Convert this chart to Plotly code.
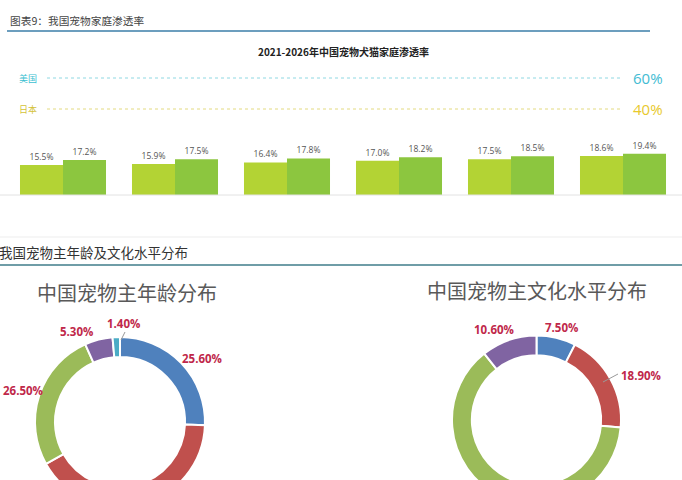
import plotly.graph_objects as go

# ---------------- data ----------------
years = ["2021", "2022", "2023", "2024", "2025", "2026"]
series_a = [15.5, 15.9, 16.4, 17.0, 17.5, 18.6]
series_b = [17.2, 17.5, 17.8, 18.2, 18.5, 19.4]
ref_countries = ["美国", "日本"]
ref_values = [60, 40]

age_groups = ["组1", "组2", "组3", "组4", "组5"]
age_values = [25.6, 41.2, 26.5, 5.3, 1.4]
edu_groups = ["组1", "组2", "组3", "组4"]
edu_values = [7.5, 18.9, 63.0, 10.6]

header1 = "图表9：我国宠物家庭渗透率"
bar_title = "2021-2026年中国宠物犬猫家庭渗透率"
header2 = "我国宠物主年龄及文化水平分布"
pie_title_age = "中国宠物主年龄分布"
pie_title_edu = "中国宠物主文化水平分布"

# ---------------- layout helpers ----------------
W, H = 682, 520
def X(px):
    return px / W
def Y(py):
    return 1 - py / H

CJK = "Noto Sans CJK SC"
pie_colors = ["#4f81bd", "#c0504d", "#9bbb59", "#8064a2", "#4bacc6"]
label_red = "#c0284a"

fig = go.Figure()

fig.add_trace(go.Bar(
    x=years, y=series_a, marker_color="#b3d334", marker_line_width=0,
    texttemplate="%{y:.1f}%", textposition="outside",
    textfont=dict(size=8.5, color="#555555", family="Open Sans"),
    hoverinfo="skip", showlegend=False))
fig.add_trace(go.Bar(
    x=years, y=series_b, marker_color="#8cc63f", marker_line_width=0,
    texttemplate="%{y:.1f}%", textposition="outside",
    textfont=dict(size=8.5, color="#555555", family="Open Sans"),
    hoverinfo="skip", showlegend=False))

fig.add_trace(go.Pie(
    labels=age_groups, values=age_values, hole=0.765, sort=False,
    direction="clockwise", rotation=0, textinfo="none", hoverinfo="skip",
    marker=dict(colors=pie_colors[:len(age_values)], line=dict(color="white", width=2)),
    domain=dict(x=[X(35), X(205)], y=[Y(507), Y(337)]), showlegend=False))
fig.add_trace(go.Pie(
    labels=edu_groups, values=edu_values, hole=0.765, sort=False,
    direction="clockwise", rotation=0, textinfo="none", hoverinfo="skip",
    marker=dict(colors=pie_colors[:len(edu_values)], line=dict(color="white", width=2)),
    domain=dict(x=[X(452), X(621)], y=[Y(504.5), Y(335.5)]), showlegend=False))

shapes = []
annotations = []

def hline(x0, x1, py, color, width, dash="solid"):
    shapes.append(dict(type="line", xref="paper", yref="paper",
                       x0=X(x0), x1=X(x1), y0=Y(py), y1=Y(py),
                       line=dict(color=color, width=width, dash=dash)))

def text(s, px, py, size, color, anchor="left", family=CJK, bold=False):
    if bold:
        s = "<b>" + s + "</b>"
    annotations.append(dict(text=s, xref="paper", yref="paper", x=X(px), y=Y(py),
                            xanchor=anchor, yanchor="middle", showarrow=False,
                            font=dict(size=size, color=color, family=family)))

# header section 1
text(header1, 8, 21, 10.7, "#444444")
hline(7, 650, 31, "#3b7ea8", 1.5)
text(bar_title, 343, 52, 10, "#222222", anchor="center", bold=True)

# reference lines
ref_rows = [78, 109]
ref_text_colors = ["#3cbfd1", "#d4c238"]
ref_line_colors = ["#8fd8e2", "#e3da80"]
ref_val_colors = ["#43bcd3", "#e8c92c"]
for name, val, py, tc, lc, vc in zip(ref_countries, ref_values, ref_rows,
                                     ref_text_colors, ref_line_colors, ref_val_colors):
    text(name, 17, py, 9, tc)
    hline(47, 620, py, lc, 1, "dot")
    text(f"{val}%", 631, py, 15, vc, family="Open Sans")

# separators
hline(0, 682, 195, "#e2e2e2", 1)
hline(0, 682, 237, "#ededed", 1)

# header section 2
text(header2, -3, 252, 13.5, "#333333")
hline(0, 682, 265, "#3f7c8a", 1.5)
text(pie_title_age, 127, 292, 20, "#595959", anchor="center")
text(pie_title_edu, 536.5, 290, 20, "#595959", anchor="center")

# donut labels (positions only; text from data)
age_label_pos = {0: (202, 358, "center"), 2: (1, 390, "left"),
                 3: (76, 331, "center"), 4: (123, 323, "center")}
edu_label_pos = {0: (561, 327, "center"), 1: (641, 375, "center"),
                 3: (494, 329, "center")}
for i, (px, py, anc) in age_label_pos.items():
    text(f"{age_values[i]:.2f}%", px, py, 11.5, label_red, anchor=anc,
         family="Open Sans", bold=True)
for i, (px, py, anc) in edu_label_pos.items():
    text(f"{edu_values[i]:.2f}%", px, py, 11.5, label_red, anchor=anc,
         family="Open Sans", bold=True)

# leader lines
for (x0, y0, x1, y1) in [(121, 340, 125, 332), (603, 382, 618, 374)]:
    shapes.append(dict(type="line", xref="paper", yref="paper",
                       x0=X(x0), y0=Y(y0), x1=X(x1), y1=Y(y1),
                       line=dict(color="#9a9a9a", width=1)))

fig.update_layout(
    width=W, height=H,
    margin=dict(l=0, r=0, t=0, b=0),
    paper_bgcolor="white", plot_bgcolor="rgba(0,0,0,0)",
    barmode="group", bargap=0.232, bargroupgap=0,
    xaxis=dict(domain=[X(7), X(679)], type="category", range=[-0.5, 5.5],
               visible=False, fixedrange=True),
    yaxis=dict(domain=[Y(195), Y(140)], range=[5.17, 24.14], visible=False,
               fixedrange=True),
    shapes=shapes, annotations=annotations,
    showlegend=False,
    font=dict(family=CJK),
)

fig.write_html(
    "out.html",
    config={"displayModeBar": False, "staticPlot": True},
    post_script="document.body.style.margin='0';document.body.style.overflow='hidden';"
                "document.documentElement.style.overflow='hidden';",
)
